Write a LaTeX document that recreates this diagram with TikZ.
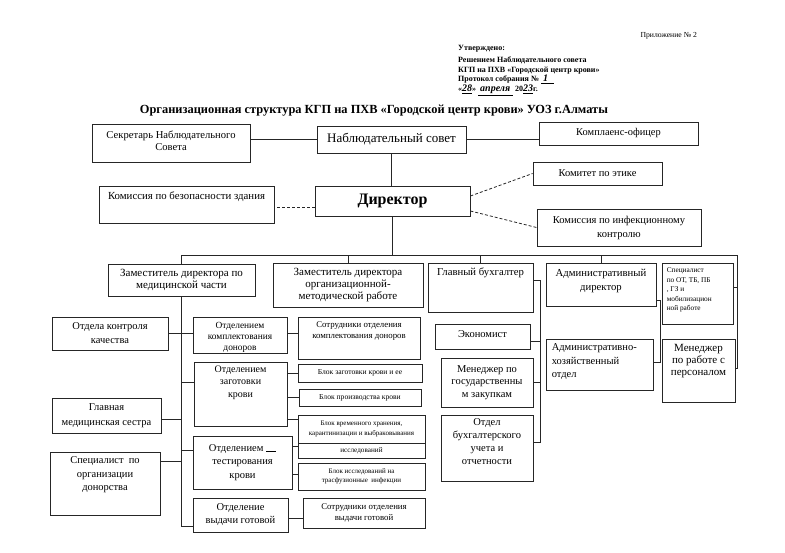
\documentclass[tikz,border=0pt]{standalone}
\usepackage{fontspec}
\setmainfont{Liberation Serif}
\usetikzlibrary{fit}
\newcommand\mkbox[5]{\node[bx, fit={(#2,#3)(#4,#5)}] (#1) {};}
\newcommand\hw[1]{\textit{\fontsize{10}{10}\selectfont #1}}
\begin{document}
\begin{tikzpicture}[x=1pt,y=-1pt,
  bx/.style={draw=black!85, line width=0.8pt, inner sep=0pt},
  ln/.style={draw=black!85, line width=0.8pt},
  dl/.style={ln, dash pattern=on 3pt off 2pt},
  tx/.style={align=center, inner sep=0pt},
  f/.style 2 args={font=\fontsize{#1}{#2}\selectfont}]
\useasboundingbox[fill=white] (0,0) rectangle (785,552);

% header
\node[anchor=west, f={7.7}{9}] (app) at (637,36) {Приложение № 2};
\node[anchor=north west, align=left, inner sep=0pt, font=\fontsize{8}{9.8}\selectfont\bfseries] (appr) at (458,45)
 {Утверждено:\\[2pt]Решением Наблюдательного совета\\КГП на ПХВ «Городской центр крови»\\Протокол собрания № \underline{\hspace{2pt}\hw{1}\hspace{6pt}}\\«\underline{\hw{28}}» \underline{\hspace{2pt}\hw{апреля}\hspace{3pt}} 20\underline{\hw{23}}г.};
\node[font=\fontsize{12.4}{14}\selectfont\bfseries] (title) at (374,111) {Организационная структура КГП на ПХВ «Городской центр крови» УОЗ г.Алматы};

% top level
\mkbox{sek}{92}{124}{250}{162}
\node[tx,f={10.6}{12.5}] (sekt) at ([yshift=2pt]sek.center) {Секретарь Наблюдательного\\Совета};
\mkbox{nab}{317}{126}{466}{153}
\node[tx,f={13}{14}] (nabt) at (nab.center) {Наблюдательный совет};
\mkbox{kom}{539}{122}{698}{145}
\node[tx,f={10.4}{12}] (komt) at ([yshift=1pt]kom.center) {Комплаенс-офицер};
\mkbox{dir}{315}{186}{470}{216}
\node[tx,font=\fontsize{16}{18}\selectfont\bfseries] (dirt) at (dir.center) {Директор};
\mkbox{bez}{99}{186}{274}{223}
\node[tx,f={10.8}{12},anchor=north] (bezt) at ([yshift=-6pt]bez.north) {Комиссия по безопасности здания};
\mkbox{eth}{533}{162}{662}{185}
\node[tx,f={10.5}{12}] (etht) at (eth.center) {Комитет по этике};
\mkbox{inf}{537}{209}{701}{246}
\node[tx,f={10.5}{14}] (inft) at (inf.center) {Комиссия по инфекционному\\контролю};

% second row
\mkbox{zm}{108}{264}{255}{296}
\node[tx,f={11}{12.5}] (zmt) at (zm.center) {Заместитель директора по\\медицинской части};
\mkbox{zo}{273}{263}{423}{307}
\node[tx,f={11}{12.3}] (zot) at (zo.center) {Заместитель директора\\организационной-\\методической работе};
\mkbox{gb}{428}{263}{533}{312}
\node[tx,f={10.7}{12.5},anchor=north] (gbt) at ([yshift=-5pt]gb.north) {Главный бухгалтер};
\mkbox{ad}{546}{263}{656}{306}
\node[tx,f={10.7}{14}] (adt) at ([yshift=4pt]ad.center) {Административный\\директор};
\mkbox{sp}{662}{263}{733}{324}
\node[tx,f={7.3}{9.5},anchor=north west,align=left] (spt) at ([shift={(5pt,-5pt)}]sp.north west) {Специалист\\по ОТ, ТБ, ПБ\\, ГЗ и\\мобилизацион\\ной работе};
\mkbox{mp}{662}{339}{735}{402}
\node[tx,f={11}{12.2},anchor=north] (mpt) at ([yshift=-5pt]mp.north) {Менеджер\\по работе с\\персоналом};
\mkbox{ahx}{546}{339}{653}{390}
\node[tx,f={10.5}{13.5},anchor=north west,align=left] (ahxt) at ([shift={(6pt,-5pt)}]ahx.north west) {Административно-\\хозяйственный\\отдел};
\mkbox{ek}{435}{324}{530}{349}
\node[tx,f={10.5}{12}] (ekt) at ([yshift=2pt]ek.center) {Экономист};
\mkbox{mg}{441}{358}{533}{407}
\node[tx,f={10.5}{12.5}] (mgt) at (mg.center) {Менеджер по\\государственны\\м закупкам};
\mkbox{ob}{441}{415}{533}{481}
\node[tx,f={10.5}{13},anchor=north] (obt) at ([yshift=-4pt]ob.north) {Отдел\\бухгалтерского\\учета и\\отчетности};

% left column
\mkbox{ok}{52}{317}{168}{350}
\node[tx,f={10.5}{14}] (okt) at (ok.center) {Отдела контроля\\качества};
\mkbox{gm}{52}{398}{161}{433}
\node[tx,f={10.5}{14.5}] (gmt) at (gm.center) {Главная\\медицинская сестра};
\mkbox{sd}{50}{452}{160}{515}
\node[tx,f={10.5}{13.5},anchor=north] (sdt) at ([yshift=-5pt]sd.north) {Специалист\ \ по\\организации\\донорства};

% middle column
\mkbox{ko}{193}{317}{287}{353}
\node[tx,f={9.4}{11}] (kot) at ([yshift=-2pt]ko.center) {Отделением\\комплектования\\доноров};
\mkbox{zk}{194}{362}{287}{426}
\node[tx,f={10}{12.5},anchor=north] (zkt) at ([yshift=-4pt]zk.north) {Отделением\\заготовки\\крови};
\mkbox{tk}{193}{436}{292}{489}
\node[tx,f={10.5}{13.5}] (tkt) at (tk.center) {Отделением \rule{10pt}{0.5pt}\\тестирования\\крови};
\mkbox{vy}{193}{498}{288}{532}
\node[tx,f={10.5}{13}] (vyt) at (vy.center) {Отделение\\выдачи готовой};

% right column
\mkbox{sk}{298}{317}{420}{359}
\node[tx,f={8.8}{11},anchor=north] (skt) at ([yshift=-5pt]sk.north) {Сотрудники отделения\\комплектования доноров};
\mkbox{bz}{298}{364}{422}{382}
\node[tx,f={7.6}{8}] (bzt) at (bz.center) {Блок заготовки крови и ее};
\mkbox{bp}{299}{389}{421}{406}
\node[tx,f={7.6}{8}] (bpt) at (bp.center) {Блок производства крови};
\mkbox{bv}{298}{415}{425}{443}
\node[tx,f={7}{9.5}] (bvt) at (bv.center) {Блок временного хранения,\\карантинизации и выбраковывания};
\mkbox{bi}{298}{443}{425}{458}
\node[tx,f={7.2}{8}] (bit) at (bi.center) {исследований};
\mkbox{bt}{298}{463}{425}{490}
\node[tx,f={7}{9.5}] (btt) at (bt.center) {Блок исследований на\\трасфузионные\ \ инфекции};
\mkbox{sv}{303}{498}{425}{528}
\node[tx,f={8.8}{10.5}] (svt) at (sv.center) {Сотрудники отделения\\выдачи готовой};

% connectors top
\draw[ln] (nab.west) -- (nab.west -| sek.east);
\draw[ln] (nab.east) -- (nab.east -| kom.west);
\draw[ln] (nab.south) -- (nab.south |- dir.north);
\draw[dl] ([yshift=-6pt]dir.west) -- ([yshift=-6pt]dir.west -| bez.east);
\draw[dl] ([yshift=5pt]dir.east) -- (eth.west);
\draw[dl] ([yshift=-10pt]dir.east) -- (inf.west);

% bus
\coordinate (bus) at (0,255);
\coordinate (rv) at (737,255);
\draw[ln] (dir.south) -- (dir.south |- bus);
\draw[ln] (zm.north) -- (zm.north |- bus) -- (rv);
\draw[ln] (zo.north) -- (zo.north |- bus);
\draw[ln] (gb.north) -- (gb.north |- bus);
\draw[ln] (ad.north) -- (ad.north |- bus);
\draw[ln] (rv) |- ([yshift=2pt]mp.east);
\draw[ln] ([yshift=6pt]sp.east) -- ([yshift=6pt]sp.east -| rv);

% admin director
\draw[ln] ([yshift=6pt]ad.south east) -- ++(4,0) |- ([yshift=2pt]ahx.east);

% chief accountant
\coordinate (gv) at (540,0);
\draw[ln] ([yshift=7pt]gb.east) -- ([yshift=7pt]gb.east -| gv) -- ([yshift=6pt]ob.east -| gv) -- ([yshift=6pt]ob.east);
\draw[ln] ([yshift=-5pt]ek.east) -- ([yshift=-5pt]ek.east -| gv);
\draw[ln] (mg.east) -- (mg.east -| gv);

% medical deputy
\draw[ln] (zm.south) |- ([yshift=-11pt]vy.west);
\draw[ln] (ok.east) -- (ok.east -| zm.south);
\draw[ln] ([yshift=2pt]ko.west) -- ([yshift=2pt]ko.west -| zm.south);
\draw[ln] ([yshift=-4pt]gm.east) -- ([yshift=-4pt]gm.east -| zm.south);
\draw[ln] ([yshift=-10pt]sd.north east) -- ([yshift=-10pt]sd.north east -| zm.south);
\draw[ln] ([yshift=-21pt]zk.north west) -- ([yshift=-21pt]zk.north west -| zm.south);
\draw[ln] ([yshift=-15pt]tk.north west) -- ([yshift=-15pt]tk.north west -| zm.south);

% departments to blocks
\draw[ln] ([yshift=2pt]ko.east) -- ([yshift=2pt]ko.east -| sk.west);
\draw[ln] (bz.west) -- (bz.west -| zk.east);
\draw[ln] (bp.west) -- (bp.west -| zk.east);
\draw[ln] ([yshift=-5pt]bv.north west) -- ([yshift=-5pt]bv.north west -| zk.east);
\draw[ln] ([yshift=4pt]bi.west) -- ([yshift=4pt]bi.west -| tk.east);
\draw[ln] ([yshift=2pt]bt.west) -- ([yshift=2pt]bt.west -| tk.east);
\draw[ln] ([yshift=-3pt]vy.east) -- ([yshift=-3pt]vy.east -| sv.west);
\end{tikzpicture}
\end{document}
